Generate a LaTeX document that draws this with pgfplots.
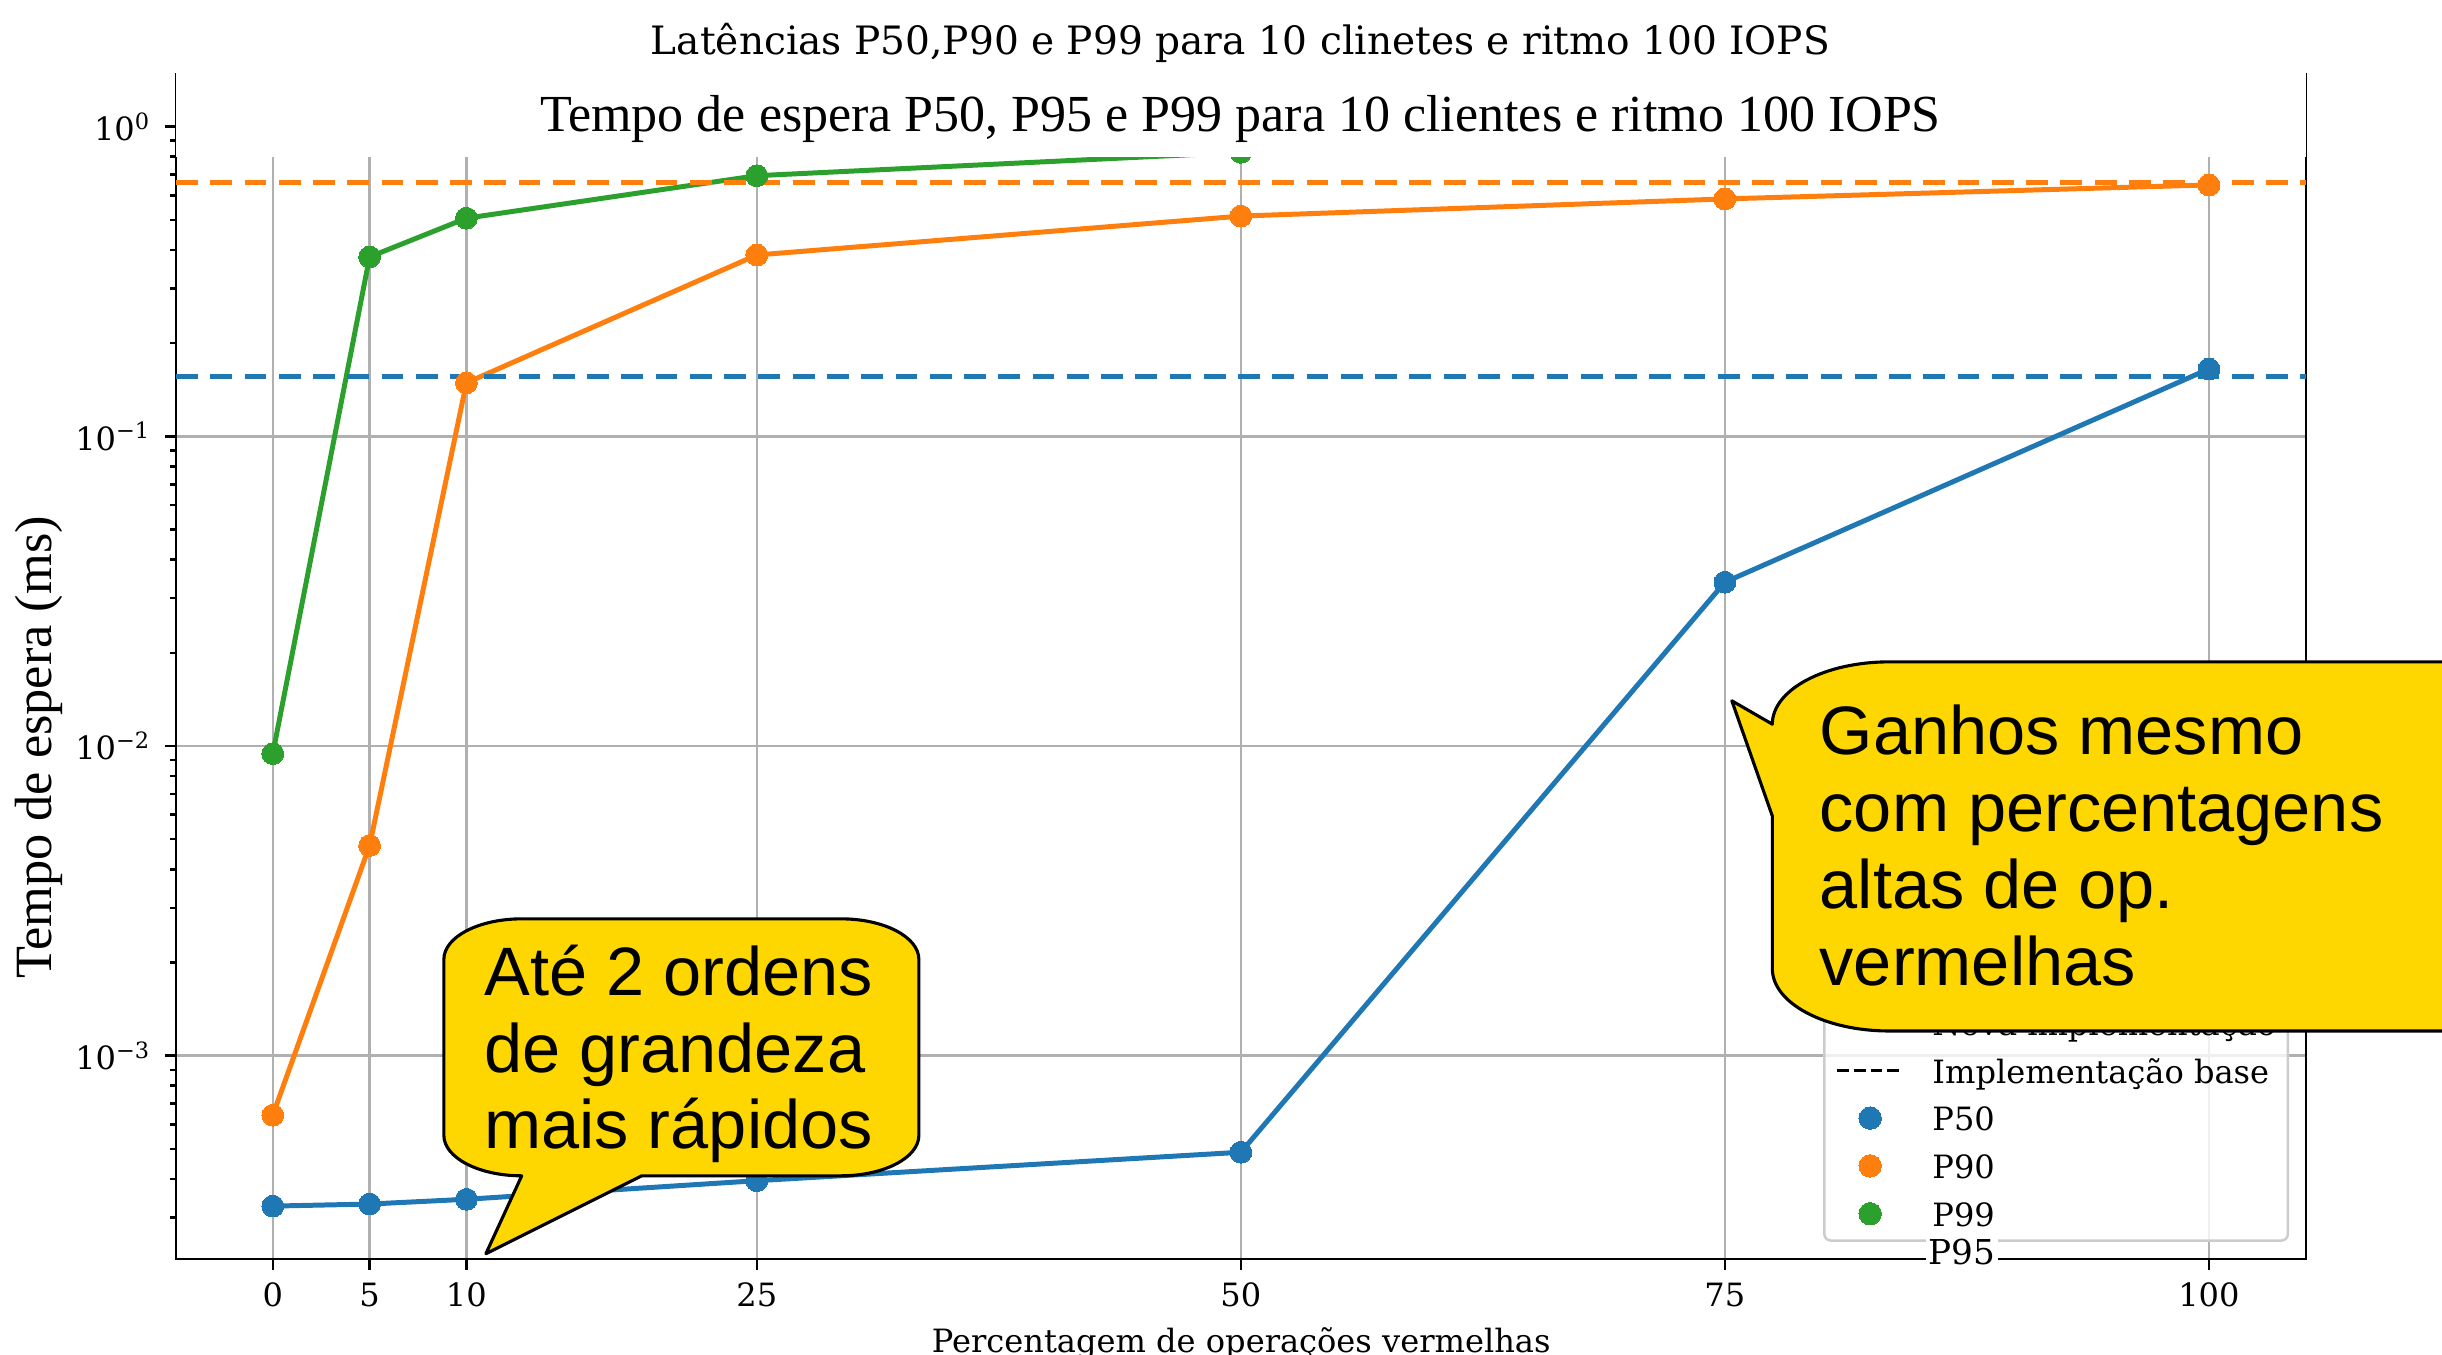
\documentclass[border=0pt]{standalone}
\usepackage{fontspec}
\setmainfont{DejaVu Serif}
\newfontfamily\timesfont{Liberation Serif}
\newfontfamily\arialfont{Liberation Sans}
\usepackage{pgfplots}
\pgfplotsset{compat=1.18}
\definecolor{tabblue}{HTML}{1F77B4}
\definecolor{taborange}{HTML}{FF7F0E}
\definecolor{tabgreen}{HTML}{2CA02C}
\definecolor{gridgray}{HTML}{B0B0B0}
\definecolor{legendgray}{HTML}{CCCCCC}
\definecolor{bubblegold}{HTML}{FFD700}
\begin{document}
\begin{tikzpicture}
\useasboundingbox (0,0) rectangle (784pt,435pt);
\clip (0,0) rectangle (784pt,435pt);
\begin{axis}[
  at={(56.5pt,30.75pt)}, anchor=south west,
  scale only axis, width=683.75pt, height=380.25pt,
  xmin=-5, xmax=105, ymode=log, ymin=2.204e-4, ymax=1.470,
  xtick={0,5,10,25,50,75,100}, xticklabels={0,5,10,25,50,75,100},
  ytick={1e-3,1e-2,1e-1,1},
  yticklabels={10\textsuperscript{−3},10\textsuperscript{−2},10\textsuperscript{−1},10\textsuperscript{0}},
  minor ytick={3e-4,4e-4,5e-4,6e-4,7e-4,8e-4,9e-4,2e-3,3e-3,4e-3,5e-3,6e-3,7e-3,8e-3,9e-3,2e-2,3e-2,4e-2,5e-2,6e-2,7e-2,8e-2,9e-2,0.2,0.3,0.4,0.5,0.6,0.7,0.8,0.9},
  grid=major, major grid style={color=gridgray, line width=0.8pt},
  tick align=outside, tick pos=left,
  major tick length=3.4pt, minor tick length=1.9pt,
  every tick/.style={black, line width=0.8pt},
  axis line style={line width=0.8pt},
  ticklabel style={font=\fontsize{10.3}{12}\selectfont},
  xticklabel style={anchor=base, yshift=-11.75pt, inner sep=0pt},
  yticklabel style={anchor=east, inner sep=0pt, xshift=-4.5pt},
  legend style={
    at={(0.7734,0.0147)}, anchor=south west,
    draw=legendgray, line width=0.8pt, rounded corners=2pt,
    fill=white, fill opacity=0.8, text opacity=1, draw opacity=1,
    font=\fontsize{10.3}{12}\selectfont,
    inner xsep=3.7pt, inner ysep=2.1pt,
    row sep=5.25pt, column sep=9pt,
    nodes={inner sep=0pt, text height=7.6pt, text depth=2.4pt},
  },
  legend cell align=left,
  legend image code/.code={\draw[fill opacity=1, draw opacity=1, sharp corners, mark repeat=2, mark phase=2, #1] plot coordinates {(0pt,1.5pt) (10.5pt,1.5pt) (21pt,1.5pt)};},
]
% P50
\addplot[color=tabblue, line width=1.6pt, mark=*, mark size=3.5pt, mark options={solid, line width=0pt}, forget plot]
coordinates {(0,3.27e-4) (5,3.32e-4) (10,3.44e-4) (25,3.95e-4) (50,4.88e-4) (75,0.0338) (100,0.165)};
% P90
\addplot[color=taborange, line width=1.6pt, mark=*, mark size=3.5pt, mark options={solid, line width=0pt}, forget plot]
coordinates {(0,6.43e-4) (5,4.77e-3) (10,0.1488) (25,0.385) (50,0.514) (75,0.584) (100,0.648)};
% P99
\addplot[color=tabgreen, line width=1.6pt, mark=*, mark size=3.5pt, mark options={solid, line width=0pt}, forget plot]
coordinates {(0,9.45e-3) (5,0.3795) (10,0.506) (25,0.694) (50,0.826)};
% base lines
\addplot[color=tabblue, line width=1.7pt, dash pattern=on 7pt off 4pt, forget plot]
coordinates {(-5,0.1562) (105,0.1562)};
\addplot[color=taborange, line width=1.7pt, dash pattern=on 7pt off 4pt, forget plot]
coordinates {(-5,0.661) (105,0.661)};
% legend
\addlegendimage{black, line width=1pt}
\addlegendentry{Nova implementação}
\addlegendimage{black, line width=1pt, dash pattern=on 3.7pt off 1.6pt}
\addlegendentry{Implementação base}
\addlegendimage{only marks, mark=*, mark size=3.6pt, color=tabblue, mark options={line width=0pt}}
\addlegendentry{P50}
\addlegendimage{only marks, mark=*, mark size=3.6pt, color=taborange, mark options={line width=0pt}}
\addlegendentry{P90}
\addlegendimage{only marks, mark=*, mark size=3.6pt, color=tabgreen, mark options={line width=0pt}}
\addlegendentry{P99}
\end{axis}
% white patch with second title
\fill[white] (56.5pt,384.7pt) rectangle (740.25pt,411.6pt);
\node[anchor=base, inner sep=0pt, font=\timesfont\fontsize{16.7}{19}\selectfont] at (398.25pt,392.75pt) {Tempo de espera P50, P95 e P99 para 10 clientes e ritmo 100 IOPS};
% first title
\node[anchor=base, inner sep=0pt, font=\fontsize{12.55}{14}\selectfont] at (398.25pt,417.4pt) {Latências P50,P90 e P99 para 10 clinetes e ritmo 100 IOPS};
% axis labels
\node[anchor=base, inner sep=0pt, font=\fontsize{10.3}{12}\selectfont] at (398.5pt,0.8pt) {Percentagem de operações vermelhas};
\node[rotate=90, anchor=base west, inner sep=0pt, font=\timesfont\fontsize{16.8}{19}\selectfont] at (16.6pt,120.5pt) {Tempo de espera (ms)};
% stray legend text
\node[anchor=base west, fill=white, inner xsep=1pt, inner ysep=0.5pt, font=\fontsize{11}{12}\selectfont] at (618pt,29pt) {P95};
% bubble 1
\draw[fill=bubblegold, line width=1pt, line join=round]
 (569pt,202.5pt) -- (556pt,210pt) -- (569pt,173pt) -- (569pt,124pt)
 arc[start angle=180, end angle=270, x radius=37.5pt, y radius=20pt]
 -- (810pt,104pt) -- (810pt,222.5pt) -- (606.5pt,222.5pt)
 arc[start angle=90, end angle=180, x radius=37.5pt, y radius=20pt] -- cycle;
\begin{scope}[every node/.style={anchor=base west, inner sep=0pt, font=\arialfont\fontsize{22}{25}\selectfont}]
\node at (584pt,192.7pt) {Ganhos mesmo};
\node at (584pt,168.0pt) {com percentagens};
\node at (584pt,143.3pt) {altas de op.};
\node at (584pt,118.6pt) {vermelhas};
\end{scope}
% bubble 2
\draw[fill=bubblegold, line width=1pt, line join=round]
 (142.5pt,127pt) -- (142.5pt,70.5pt)
 arc[start angle=180, end angle=270, x radius=25pt, y radius=13pt]
 -- (156pt,32.5pt) -- (206pt,57.5pt) -- (270pt,57.5pt)
 arc[start angle=270, end angle=360, x radius=25pt, y radius=13pt]
 -- (295pt,127pt)
 arc[start angle=0, end angle=90, x radius=25pt, y radius=13pt]
 -- (167.5pt,140pt)
 arc[start angle=90, end angle=180, x radius=25pt, y radius=13pt] -- cycle;
\begin{scope}[every node/.style={anchor=base west, inner sep=0pt, font=\arialfont\fontsize{22}{25}\selectfont}]
\node at (155.3pt,115.4pt) {Até 2 ordens};
\node at (155.3pt,90.8pt) {de grandeza};
\node at (155.3pt,66.15pt) {mais rápidos};
\end{scope}
\end{tikzpicture}
\end{document}
